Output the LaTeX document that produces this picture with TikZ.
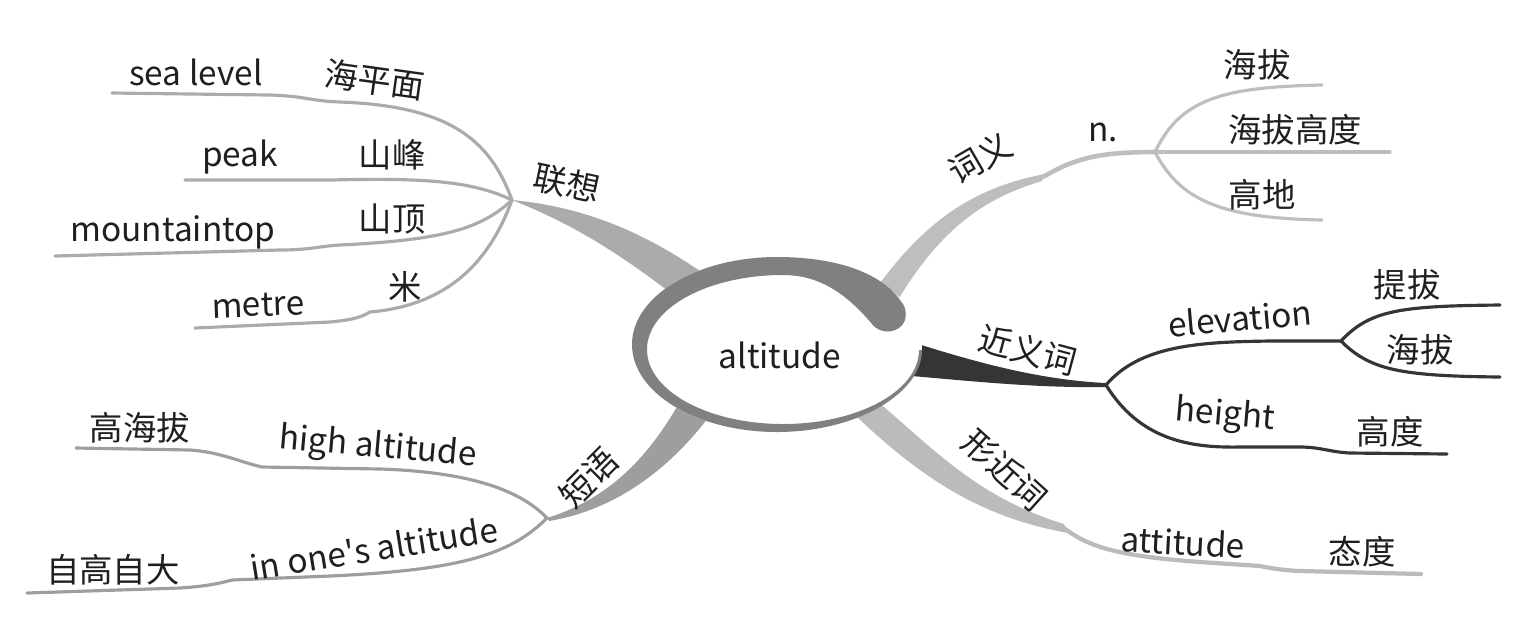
\documentclass[tikz,border=0pt]{standalone}
\usepackage{fontspec}
\newfontfamily\cjk{Noto Sans CJK SC}
\definecolor{ringgray}{HTML}{808080}
\definecolor{assocgray}{HTML}{ABABAB}
\definecolor{meangray}{HTML}{BEBEBE}
\definecolor{syndark}{HTML}{363435}
\definecolor{formgray}{HTML}{BBBBBB}
\definecolor{phrasegray}{HTML}{9E9E9E}
\begin{document}
\begin{tikzpicture}[x=0.01cm, y=-0.01cm,
  lbl/.style={font=\cjk\fontsize{9.5}{11}\selectfont, text=black!88, inner sep=0pt},
  twig/.style={line width=0.9pt, line cap=round}]
\useasboundingbox (0,0) rectangle (1514,635);

% hubs and line ends
\coordinate (lx) at (512,200);
\coordinate (cy) at (1155,152);
\coordinate (jy) at (1106,385);
\coordinate (ev) at (1341,341);
\coordinate (dy) at (547,518);
\coordinate (sea-e) at (112,93);
\coordinate (peak-e) at (185,180);
\coordinate (top-e) at (55,256);
\coordinate (metre-e) at (195,328);
\coordinate (hb1-e) at (1322,85);
\coordinate (hb2-e) at (1390,152);
\coordinate (gd-e) at (1322,220);
\coordinate (tb-e) at (1500,305);
\coordinate (hb3-e) at (1500,377);
\coordinate (ht-e) at (1447,454);
\coordinate (att-e) at (1421,574);
\coordinate (high-e) at (76,448);
\coordinate (one-e) at (27,593);

% 联想
\fill[assocgray] (lx) .. controls (585,207) and (645,232) .. (710,278)
  -- (680,300) .. controls (615,250) and (572,224) .. (lx) -- cycle;
\draw[twig, assocgray] (lx) .. controls (490,140) and (450,106) .. (340,102)
  .. controls (310,101) and (305,96) .. (270,95) -- (sea-e);
\draw[twig, assocgray] (lx) .. controls (470,180) and (420,178) .. (330,180) -- (peak-e);
\draw[twig, assocgray] (lx) .. controls (480,230) and (440,240) .. (340,245)
  .. controls (320,246) and (310,250) .. (280,250) -- (top-e);
\draw[twig, assocgray] (lx) .. controls (490,260) and (450,305) .. (370,312)
  .. controls (360,318) and (350,320) .. (330,322) -- (metre-e);

% 词义
\fill[meangray] (875,290) .. controls (925,220) and (975,187) .. (1045,174)
  -- (1042,181) .. controls (985,198) and (940,228) .. (895,305) -- cycle;
\draw[meangray, line width=1.3pt] (1043,177) .. controls (1075,158) and (1100,152) .. (cy);
\draw[twig, meangray] (cy) .. controls (1180,100) and (1220,87) .. (hb1-e);
\draw[twig, meangray] (cy) -- (hb2-e);
\draw[twig, meangray] (cy) .. controls (1180,200) and (1220,218) .. (gd-e);

% 近义词
\fill[syndark] (915,343) .. controls (975,362) and (1040,380) .. (1106,383)
  -- (1106,387) .. controls (1040,388) and (980,382) .. (912,376) -- cycle;
\draw[twig, syndark] (jy) .. controls (1140,345) and (1200,342) .. (1270,341) -- (ev);
\draw[twig, syndark] (ev) .. controls (1370,310) and (1400,306) .. (tb-e);
\draw[twig, syndark] (ev) .. controls (1370,370) and (1400,376) .. (hb3-e);
\draw[twig, syndark] (jy) .. controls (1140,440) and (1190,448) .. (1240,447) -- (1300,447)
  .. controls (1320,447) and (1330,452) .. (1350,453) -- (ht-e);

% 形近词
\fill[formgray] (870,395) .. controls (930,445) and (975,497) .. (1064,524)
  -- (1068,533) .. controls (985,518) and (925,482) .. (855,415) -- cycle;
\draw[twig, formgray, line width=1.2pt] (1064,528) .. controls (1090,548) and (1120,556) .. (1200,562)
  -- (1260,566) .. controls (1270,568) and (1280,570) .. (1300,571) -- (att-e);

% 短语
\fill[phrasegray] (678,405) .. controls (645,462) and (605,500) .. (dy)
  -- (549,521) .. controls (615,510) and (668,470) .. (708,418) -- cycle;
\draw[twig, phrasegray] (dy) .. controls (520,490) and (470,472) .. (380,469) -- (262,467)
  .. controls (240,462) and (220,452) .. (190,450) -- (high-e);
\draw[twig, phrasegray] (dy) .. controls (510,555) and (460,570) .. (330,576) -- (232,580)
  .. controls (220,583) and (210,586) .. (180,588) -- (one-e);

% centre
\fill[white] (777,344.5) ellipse [x radius=145, y radius=87.5];
\fill[ringgray] (900,300) .. controls (880,272) and (835,257) .. (777,257)
  .. controls (697,257) and (632,296) .. (632,344.5)
  .. controls (632,393) and (697,432) .. (777,432)
  .. controls (857,432) and (922,393) .. (922,350)
  -- (919,350) .. controls (919,391) and (858,424) .. (783,424)
  .. controls (708,424) and (647,391) .. (647,349.5)
  .. controls (647,308) and (708,275) .. (783,275)
  .. controls (818,275) and (845,292) .. (872,324)
  .. controls (880,335) and (900,334) .. (905,320)
  .. controls (907,312) and (905,305) .. (900,300) -- cycle;
\node[lbl] (root) at (780,355) {altitude};

% labels
\node[lbl, rotate=-12] (assoc) at (567,183) {联想};
\node[lbl] (sealevel) at (196,72) {sea level};
\node[lbl, rotate=-8] (hpm) at (375,80) {海平面};
\node[lbl] (peak) at (240,157) {peak};
\node[lbl] (sf) at (392,155) {山峰};
\node[lbl] (mtop) at (173,232) {mountaintop};
\node[lbl] (sd) at (392,219) {山顶};
\node[lbl, rotate=2] (metre) at (258,305) {metre};
\node[lbl] (mi) at (405,287) {米};

\node[lbl, rotate=30] (mean) at (980,158) {词义};
\node[lbl] (noun) at (1103,132) {n.};
\node[lbl] (hb1) at (1257,65) {海拔};
\node[lbl] (hbgd) at (1295,130) {海拔高度};
\node[lbl] (gd) at (1262,195) {高地};

\node[lbl, rotate=-15] (syn) at (1028,350) {近义词};
\node[lbl, rotate=5] (elev) at (1240,318) {elevation};
\node[lbl] (tb) at (1407,285) {提拔};
\node[lbl] (hb3) at (1420,350) {海拔};
\node[lbl, rotate=-5] (height) at (1225,416) {height};
\node[lbl] (gdu) at (1390,432) {高度};

\node[lbl, rotate=-42] (form) at (1005,470) {形近词};
\node[lbl, rotate=-3] (att) at (1183,542) {attitude};
\node[lbl] (td) at (1362,552) {态度};

\node[lbl, rotate=45] (phrase) at (589,478) {短语};
\node[lbl] (ghb) at (140,428) {高海拔};
\node[lbl, rotate=-5] (high) at (378,448) {high altitude};
\node[lbl] (zgzd) at (113,570) {自高自大};
\node[lbl, rotate=9] (oneself) at (374,548) {in one's altitude};
\end{tikzpicture}
\end{document}
